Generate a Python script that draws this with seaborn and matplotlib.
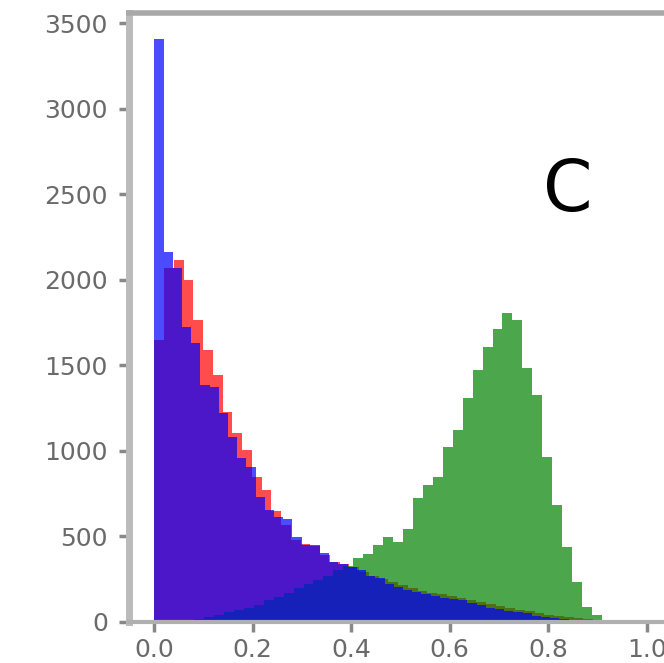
import numpy as np
import pandas as pd
import matplotlib
matplotlib.use('Agg')
import matplotlib.pyplot as plt
import seaborn as sns

# 各ビンの度数
# 系列ごとにビン幅が少し違う (データ範囲に応じた自動ビン)
red_width = 0.0198
red_counts = [1648, 2067, 2116, 1999, 1765, 1589, 1443, 1228, 1105, 1004,
              848, 770, 645, 565, 475, 455, 440, 390, 351, 340,
              318, 290, 270, 250, 230, 212, 196, 182, 170, 160,
              150, 140, 128, 116, 102, 90, 80, 70, 60, 50,
              42, 34, 27, 20, 14, 10, 6, 4, 2, 1]

green_width = 0.0202
green_counts = [0, 0, 3, 8, 15, 25, 40, 55, 68, 80,
                97, 125, 145, 170, 197, 220, 245, 270, 300, 325,
                373, 396, 449, 497, 468, 542, 723, 800, 848, 1024,
                1121, 1307, 1472, 1608, 1710, 1804, 1765, 1482, 1326, 965,
                683, 439, 234, 88, 40, 5, 1, 0, 0, 0]

blue_width = 0.0187
blue_counts = [3408, 2160, 2067, 1725, 1630, 1384, 1370, 1220, 1082, 960,
               906, 731, 653, 612, 600, 497, 449, 449, 402, 350,
               335, 320, 300, 270, 258, 220, 205, 185, 175, 160,
               150, 140, 133, 125, 110, 100, 80, 72, 60, 54,
               48, 35, 28, 20, 14, 10, 8, 6, 5, 4,
               3, 2]

x_ticks = [0.0, 0.2, 0.4, 0.6, 0.8, 1.0]
y_ticks = [0, 500, 1000, 1500, 2000, 2500, 3000, 3500]
panel_label = 'C'

sns.set_style('white')
plt.rcParams['font.family'] = ['DejaVu Sans']

fig = plt.figure(figsize=(6.64, 6.63), dpi=100)
ax = fig.add_axes([0.1938, 0.0623, 0.8188, 0.9181])

series = [(red_counts, red_width, 'red'),
          (green_counts, green_width, 'green'),
          (blue_counts, blue_width, 'blue')]
for counts, width, color in series:
    n = len(counts)
    centers = np.arange(n) * width + width / 2
    df = pd.DataFrame({'value': centers, 'count': counts})
    sns.histplot(data=df, x='value', weights='count', binwidth=width,
                 binrange=(0.0, n * width), element='step', fill=True,
                 color=color, alpha=0.7, linewidth=0, ax=ax)

ax.set_xlim(-0.052, 1.052)
ax.set_ylim(0, 3560)
ax.set_xticks(x_ticks)
ax.set_yticks(y_ticks)
ax.set_xlabel('')
ax.set_ylabel('')

# 枠線 (灰色・太め)
ax.spines['right'].set_visible(False)
ax.spines['left'].set_color('#bbbbbb')
ax.spines['left'].set_linewidth(5)
ax.spines['top'].set_color('#a8a8a8')
ax.spines['top'].set_linewidth(4)
ax.spines['bottom'].set_color('#b0b0b0')
ax.spines['bottom'].set_linewidth(3)

ax.tick_params(axis='both', which='major', direction='out', length=7, width=2.5,
               color='#888888', labelcolor='#6a6a6a', labelsize=18,
               bottom=True, left=True)
ax.tick_params(axis='y', pad=8)
ax.tick_params(axis='x', pad=5)

ax.text(0.84, 2402, panel_label, fontsize=51, ha='center', va='baseline', color='black')

fig.savefig('out.png', dpi=100)
